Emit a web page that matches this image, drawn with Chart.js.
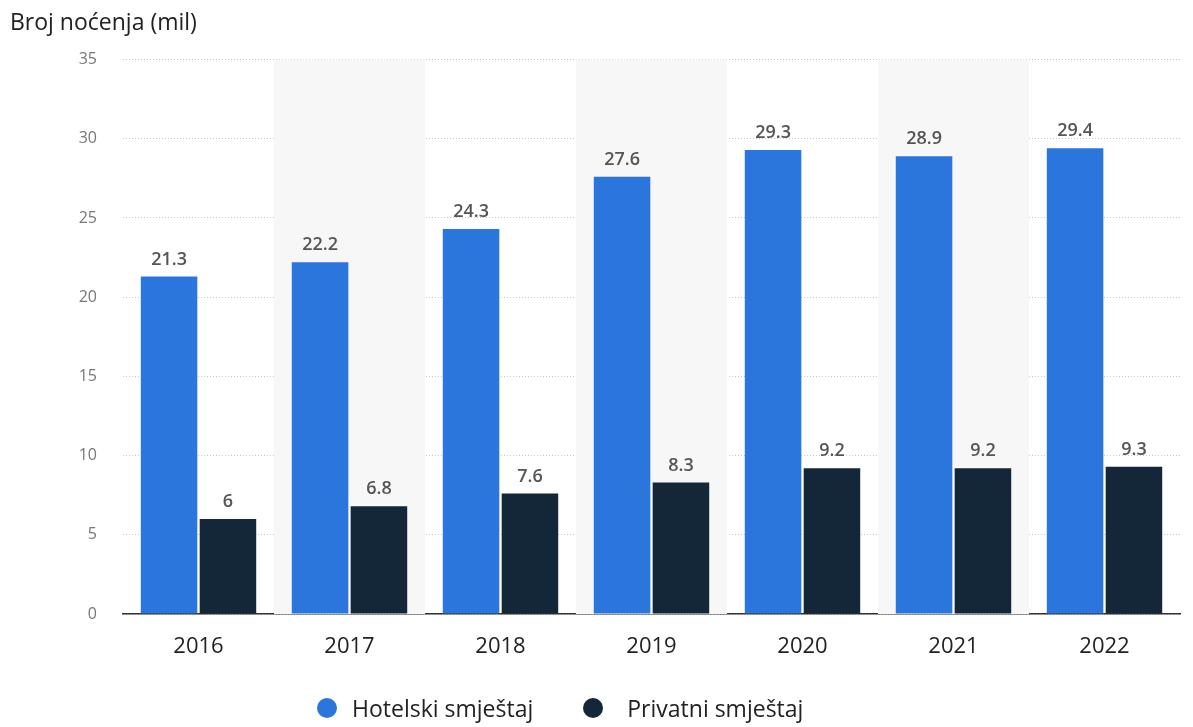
<!DOCTYPE html>
<html>
<head>
<meta charset="utf-8">
<script src="https://cdn.jsdelivr.net/npm/chart.js@4.4.0/dist/chart.umd.min.js"></script>
<style>
  html, body { margin: 0; padding: 0; background: #fff; }
  #wrap { position: relative; width: 1193px; height: 727px; }
  #legenda { position: absolute; left: 317px; top: 692px; font-family: "Open Sans", sans-serif; font-size: 23px; color: #222; display: flex; }
  .stavka { display: flex; align-items: center; margin-right: 50px; }
  .tocka { width: 20px; height: 20px; border-radius: 50%; margin-right: 15px; }
  .stavka + .stavka .tocka { margin-right: 24px; }
</style>
</head>
<body>
<div id="wrap">
  <canvas id="grafikon" width="1193" height="727"></canvas>
  <div id="legenda"></div>
</div>
<script>
// Podaci
const godine = ["2016", "2017", "2018", "2019", "2020", "2021", "2022"];
const hotelski = [21.3, 22.2, 24.3, 27.6, 29.3, 28.9, 29.4];
const privatni = [6, 6.8, 7.6, 8.3, 9.2, 9.2, 9.3];
const nazivi = ["Hotelski smještaj", "Privatni smještaj"];
const boje = ["#2a76dd", "#132739"];

// Sive pruge iza svake druge godine
const pruge = {
    id: "pruge",
    beforeDatasetsDraw(chart) {
        const ctx = chart.ctx;
        const x = chart.scales.x;
        const area = chart.chartArea;
        const sirina = (x.right - x.left) / godine.length;
        ctx.save();
        ctx.fillStyle = "#f7f7f7";
        for (let i = 1; i < godine.length; i += 2) {
            const sredina = x.getPixelForValue(i);
            ctx.fillRect(sredina - sirina / 2, area.top, sirina, area.bottom - area.top);
        }
        ctx.restore();
    }
};

// Vrijednosti iznad stupaca
const oznake = {
    id: "oznake",
    afterDatasetsDraw(chart) {
        const ctx = chart.ctx;
        ctx.save();
        ctx.font = "600 18px 'Open Sans', sans-serif";
        ctx.fillStyle = "#555";
        ctx.textAlign = "center";
        ctx.textBaseline = "bottom";
        chart.data.datasets.forEach(function(ds, d) {
            chart.getDatasetMeta(d).data.forEach(function(bar, i) {
                ctx.fillText(String(ds.data[i]), bar.x, bar.y - 8);
            });
        });
        ctx.restore();
    }
};

const chart = new Chart(document.getElementById("grafikon"), {
    type: "bar",
    data: {
        labels: godine,
        datasets: [
            { label: nazivi[0], data: hotelski, backgroundColor: boje[0], categoryPercentage: 0.78, barPercentage: 0.96 },
            { label: nazivi[1], data: privatni, backgroundColor: boje[1], categoryPercentage: 0.78, barPercentage: 0.96 }
        ]
    },
    options: {
        responsive: false,
        animation: false,
        layout: { padding: { left: 10, right: 13, top: 0, bottom: 0 } },
        plugins: {
            legend: { display: false },
            tooltip: { enabled: false },
            title: {
                display: true,
                text: "Broj noćenja (mil)",
                align: "start",
                color: "#222",
                font: { family: "'Open Sans', sans-serif", size: 23, weight: "normal" },
                padding: { top: 10, bottom: 22 }
            }
        },
        scales: {
            x: {
                grid: { display: false },
                border: { display: true, color: "#333", width: 1.5 },
                ticks: { color: "#222", padding: 12, font: { family: "'Open Sans', sans-serif", size: 22 } },
                afterFit(scale) { scale.height = 113; }
            },
            y: {
                min: 0,
                max: 35,
                ticks: { stepSize: 5, color: "#777", padding: 26, font: { family: "'Open Sans', sans-serif", size: 16 } },
                grid: { color: "#c8c8c8", drawTicks: false, lineWidth: 1 },
                border: { display: false, dash: [1, 2] },
                afterFit(scale) { scale.width = 113; }
            }
        }
    },
    plugins: [pruge, oznake]
});

// Legenda ispod grafikona
const legenda = document.getElementById("legenda");
nazivi.forEach(function(naziv, i) {
    const el = document.createElement("div");
    el.className = "stavka";
    el.innerHTML = '<span class="tocka" style="background:' + boje[i] + '"></span><span>' + naziv + '</span>';
    legenda.appendChild(el);
});
</script>
</body>
</html>
